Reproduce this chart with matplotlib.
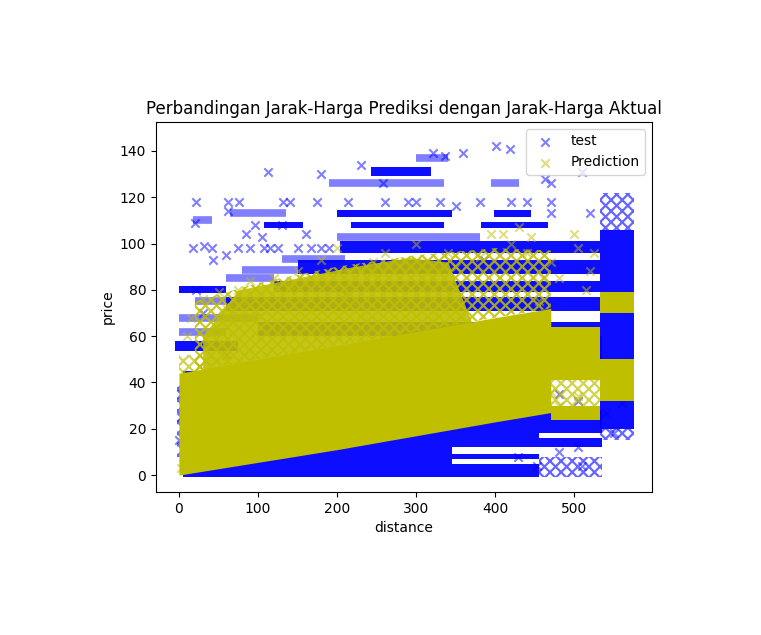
import numpy as np
import matplotlib.pyplot as plt

plt.rcParams['hatch.linewidth'] = 1.6

# test data (blue): dense blocks of points -> (d0, d1, p0, p1)
test_blocks = [
    (243, 318, 129, 133), (200, 345, 111.5, 114.5), (398, 445, 111.5, 114.5),
    (217, 335, 106.5, 109.5), (382, 466, 106.5, 109.5), (107, 157, 106.5, 109.5),
    (204, 532, 96, 101), (150, 532, 87, 93), (120, 532, 79, 84),
    (0, 60, 78.5, 81.5), (60, 532, 71, 77), (-5, 75, 53.5, 58),
    (100, 532, 60, 66), (5, 345, -1, 45), (345, 455, -1, 5),
    (345, 455, 7, 9), (345, 455, 12, 50), (455, 535, 18, 28),
    (455, 535, 41, 60), (455, 535, 12, 16), (532, 575, 20, 106),
]
# sparser blocks of test points
test_light = [
    (455, 535, -1, 8), (532, 575, 106, 122), (532, 575, 15, 20),
    (-3, 8, 8, 40),
]
# sparse rows of test points -> price, from, to
row_price = [137, 126, 126, 113, 110, 103, 93.5, 88.5, 85, 75, 68, 62]
row_from = [300, 190, 395, 65, 18, 200, 130, 80, 60, 20, 0, 0]
row_to = [340, 335, 430, 135, 42, 380, 210, 150, 120, 60, 100, 60]

# single test outliers
test_d = [113, 401, 418, 321, 359, 336, 463, 470, 510, 230, 180, 258, 62, 20, 32,
          140, 76, 96, 105, 60, 43, 130, 470, 520, 350, 440, 10, 2, 0, 3, 428,
          452, 480, 510, 505, 540, 560, 550, 210, 30, 85, 160, 385, 290, 60, 22,
          22, 62, 132, 175, 214, 260, 300, 330, 380, 420, 470,
          18, 42, 75, 90, 107, 115, 125, 150, 167, 180, 190, 480, 505]
test_p = [131, 142, 141, 139, 139, 138, 128, 126, 131, 134, 130, 126, 114, 109, 99,
          118, 118, 108, 103, 95, 93, 108, 113, 113, 116, 118, 30, 25, 15, 35, 8,
          4, 10, 4, 12, 27, 31, 18, 78, 70, 104, 104, 93, 118, 52, 80,
          118, 118, 118, 118, 118, 118, 118, 118, 118, 118, 118,
          98, 98, 98, 98, 98, 98, 98, 98, 98, 98, 98, 35, 32]

# prediction (yellow): main band
pa_d = [0, 100, 200, 300, 400, 470]
pa_lo = [0, 5.5, 11, 17, 23, 27]
pa_hi = [44, 50, 56, 62, 68, 72]
# upper band, dense part
ps_d = [30, 75, 220, 290, 340, 370]
ps_lo = [45.5, 48, 56.5, 61, 64, 66]
ps_hi = [60, 80, 90, 94, 92, 66]
# upper band, sparse part
pb_d = [20, 100, 200, 300, 400, 470]
pb_lo = [45, 50, 56, 62, 68, 72]
pb_hi = [75, 83, 90, 95, 98, 97]
# extra prediction blocks (d0, d1, p0, p1)
pred_blocks = [(470, 532, 41, 64), (532, 575, 32, 50), (532, 575, 70, 79),
               (470, 532, 24, 30)]
pred_light = [(470, 532, 29, 41), (0, 30, 44, 52)]

pred_d = [410, 420, 430, 445, 440, 500, 505, 470, 480, 520, 515, 525, 380, 350, 320,
          260, 245, 230, 150, 140, 120, 90, 75, 50, 30, 15, 10, 35, 60, 180, 200,
          300, 340, 395, 460, 455, 440, 470, 480, 505, 2, 5]
pred_p = [104, 100, 107, 103, 96, 104, 98, 92, 85, 88, 80, 96, 94, 90, 85,
          96, 92, 88, 88, 82, 85, 84, 80, 79, 76, 68, 60, 62, 72, 93, 98,
          100, 96, 104, 85, 75, 40, 36, 30, 34, 3, 8]

fig = plt.figure(figsize=(7.61, 6.35), dpi=100)
ax = fig.add_axes([0.205, 0.2252, 0.6518, 0.5827])

for d0, d1, p0, p1 in test_blocks:
    ax.fill_between([d0, d1], p0, p1, color='b', alpha=0.95, lw=0, zorder=1)
for d0, d1, p0, p1 in test_light:
    ax.fill_between([d0, d1], p0, p1, facecolor='none', edgecolor='b', hatch='xxx',
                    alpha=0.6, lw=0, zorder=1)
ax.hlines(row_price, row_from, row_to, color='b', alpha=0.5, lw=5.5, zorder=1)
ax.scatter(test_d, test_p, marker='x', c='b', alpha=0.5, label='test', zorder=2)

ax.fill_between(pb_d, pb_lo, pb_hi, facecolor='none', edgecolor='y', hatch='xxx',
                alpha=0.85, lw=0, zorder=3)
ax.fill_between(ps_d, ps_lo, ps_hi, color='y', alpha=0.9, lw=0, zorder=3)
ax.fill_between(pa_d, pa_lo, pa_hi, color='y', alpha=1, lw=0, zorder=3)
for d0, d1, p0, p1 in pred_blocks:
    ax.fill_between([d0, d1], p0, p1, color='y', alpha=1, lw=0, zorder=3)
for d0, d1, p0, p1 in pred_light:
    ax.fill_between([d0, d1], p0, p1, facecolor='none', edgecolor='y', hatch='xxx',
                    alpha=0.7, lw=0, zorder=3)
ax.scatter(pred_d, pred_p, marker='x', c='y', alpha=0.5, label='Prediction', zorder=4)

ax.set_xlim(-29, 598)
ax.set_ylim(-7.3, 152.5)
ax.set_xlabel('distance')
ax.set_ylabel('price')
ax.set_title('Perbandingan Jarak-Harga Prediksi dengan Jarak-Harga Aktual')
ax.legend(loc='upper right')

plt.savefig('out.png')
